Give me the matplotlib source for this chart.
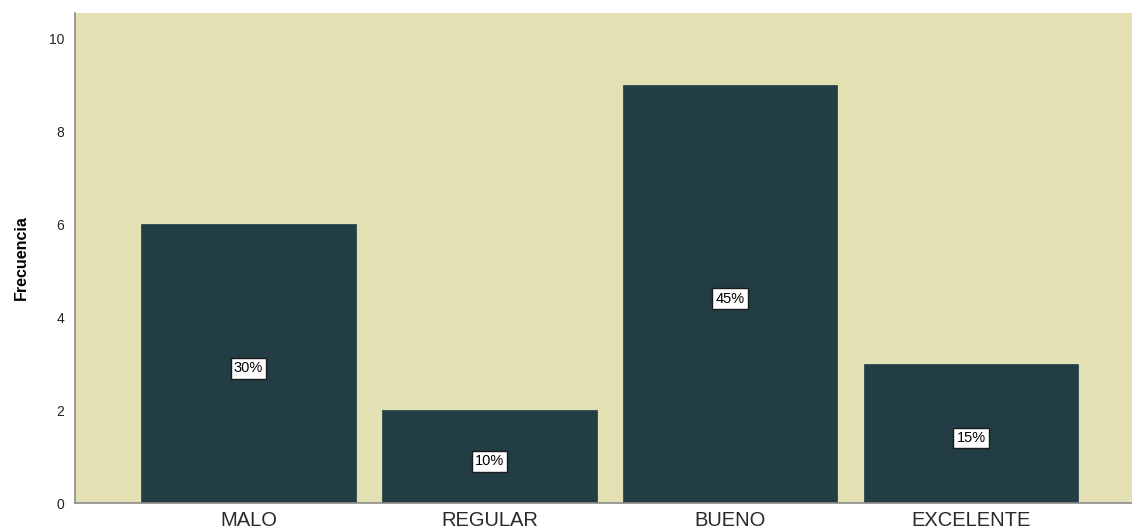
import matplotlib
matplotlib.use("Agg")
import matplotlib.pyplot as plt

categories = ["MALO", "REGULAR", "BUENO", "EXCELENTE"]
frequencies = [6, 2, 9, 3]
percent_labels = ["30%", "10%", "45%", "15%"]
y_ticks = [0, 2, 4, 6, 8, 10]

plt.rcParams["font.family"] = ["Liberation Sans", "DejaVu Sans"]

fig = plt.figure(figsize=(11.32, 5.31), dpi=100)
ax = fig.add_axes([0.0663, 0.0527, 0.9337, 0.9228])
ax.set_facecolor("#e3e0b3")

x = list(range(len(categories)))
ax.bar(x, frequencies, width=0.89, color="#223d44", edgecolor="#2c4a50", linewidth=0.6, zorder=2)

for xi, val, lab in zip(x, frequencies, percent_labels):
    ax.annotate(lab, xy=(xi, val / 2), xytext=(0, -3.5), textcoords="offset points",
                ha="center", va="center", fontsize=10.5, color="black", zorder=3,
                bbox=dict(boxstyle="square,pad=0.22", facecolor="white", edgecolor="#1a1a1a", linewidth=1.0))

ax.set_xlim(-0.72, 3.668)
ax.set_ylim(0, 10.54)
ax.set_xticks(x)
ax.set_xticklabels(categories, fontsize=14.5, color="#2a2a2a")
ax.set_yticks(y_ticks)
ax.set_yticklabels([str(t) for t in y_ticks], fontsize=10, color="#222222")
ax.tick_params(axis="both", length=0)
ax.tick_params(axis="y", pad=8)
ax.tick_params(axis="x", pad=6)

ax.set_ylabel("Frecuencia", fontsize=11.5, fontweight="bold", labelpad=14)

for side in ("top", "right"):
    ax.spines[side].set_visible(False)
for side in ("left", "bottom"):
    ax.spines[side].set_color("#8a8a8a")
    ax.spines[side].set_linewidth(1.2)

fig.savefig("out.png", dpi=100)
